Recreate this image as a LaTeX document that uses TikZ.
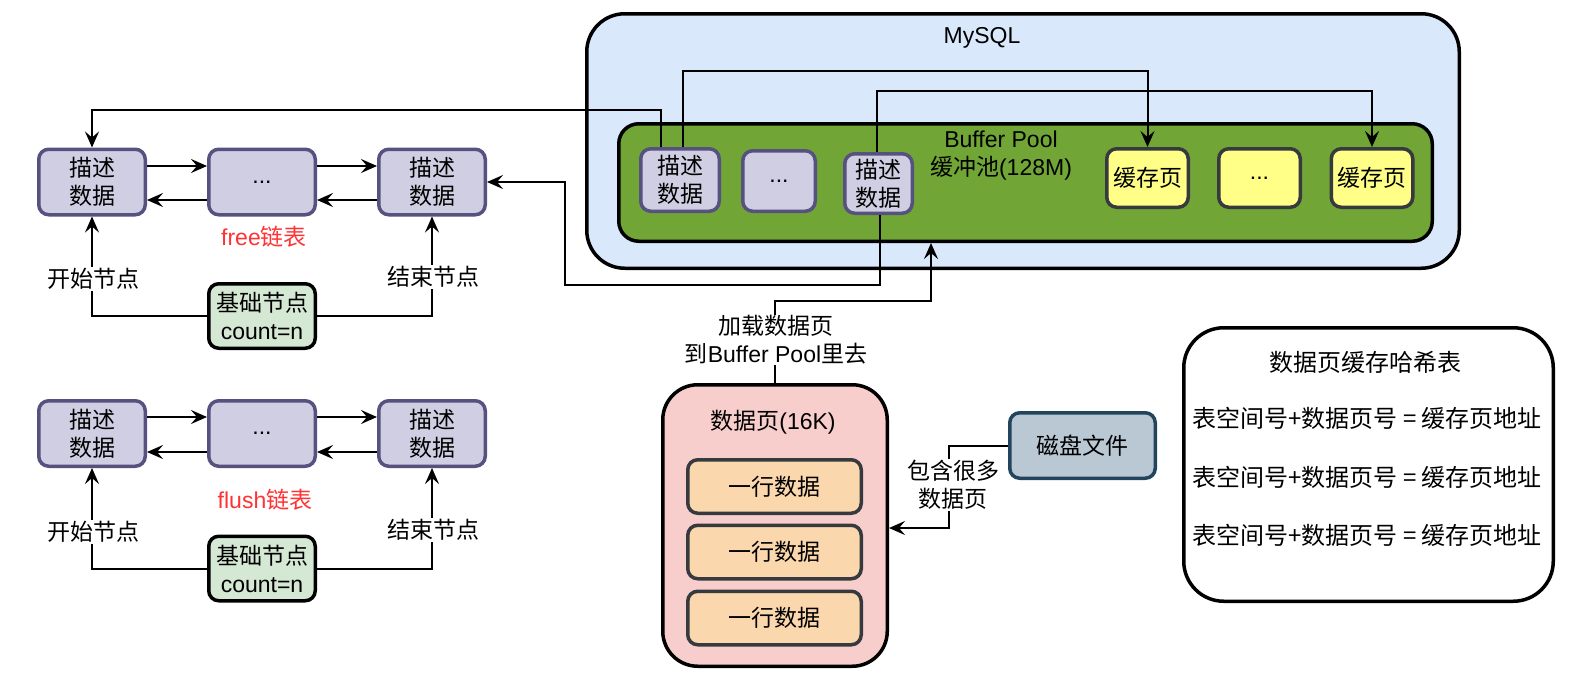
\documentclass[tikz,border=0pt]{standalone}
\usepackage{fontspec}
\setmainfont{Noto Sans CJK SC}
\newfontfamily\lat{Liberation Sans}
\usetikzlibrary{arrows.meta}
\definecolor{mysqlfill}{HTML}{DAE8FC}
\definecolor{poolfill}{HTML}{71A637}
\definecolor{descfill}{HTML}{D0CEE2}
\definecolor{descline}{HTML}{56517E}
\definecolor{cachefill}{HTML}{FFFF88}
\definecolor{darkline}{HTML}{36393D}
\definecolor{basefill}{HTML}{D5E8D4}
\definecolor{pagefill}{HTML}{F8CECC}
\definecolor{rowfill}{HTML}{FAD7AC}
\definecolor{diskfill}{HTML}{BAC8D3}
\definecolor{diskline}{HTML}{23445D}
\definecolor{redtext}{HTML}{FF3333}
\newcommand\txtsize{\fontsize{23}{28}\selectfont}
\newcommand\hashsize{\fontsize{24}{28}\selectfont}
\begin{document}
\begin{tikzpicture}[x=1pt,y=-1pt,
  box/.style={draw, line width=3.5pt, align=center, inner sep=0pt, font=\txtsize},
  desc/.style={box, rounded corners=10pt, fill=descfill, draw=descline},
  cache/.style={box, rounded corners=10pt, fill=cachefill, draw=darkline},
  basebox/.style={box, rounded corners=10pt, fill=basefill, draw=black, minimum width=106.5pt, minimum height=64.5pt},
  rowbox/.style={box, rounded corners=10pt, fill=rowfill, draw=darkline, minimum width=173.5pt, minimum height=53.5pt},
  listnode/.style={desc, minimum width=106.5pt, minimum height=65.5pt},
  arr/.style={-{Stealth[length=16pt,width=14pt,inset=6pt]}, line width=2pt},
  lbl/.style={fill=white, inner sep=1pt, align=center, font=\txtsize},
  plain/.style={inner sep=0pt, align=center, font=\txtsize}]
\useasboundingbox (0,0) rectangle (1578,678);

% ---------------- MySQL / Buffer Pool ----------------
\node[box, rounded corners=38pt, fill=mysqlfill, minimum width=872.5pt, minimum height=254.5pt] (mysql) at (1023,141) {};
\node[plain] (mysqltxt) at (982,38) {\lat MySQL};
\node[box, rounded corners=20pt, fill=poolfill, minimum width=813.5pt, minimum height=117.5pt] (pool) at (1025.5,182.5) {};
\node[plain] (pooltxt) at (1001,156) {{\lat Buffer Pool}\\缓冲池{\lat (128M)}};
\node[desc, minimum width=78.5pt, minimum height=62.5pt] (d1) at (680,180) {描述\\数据};
\node[desc, minimum width=72.5pt, minimum height=60.5pt] (dots1) at (779,181) {\lat ...};
\node[desc, minimum width=67.5pt, minimum height=59.5pt] (d2) at (878.5,183.5) {描述\\数据};
\node[cache, minimum width=81.5pt, minimum height=58.5pt] (c1) at (1147.5,178) {缓存页};
\node[cache, minimum width=81.5pt, minimum height=58.5pt] (c2) at (1259.5,178) {\lat ...};
\node[cache, minimum width=81.5pt, minimum height=58.5pt] (c3) at (1372,178) {缓存页};

% ---------------- free list ----------------
\node[listnode] (fA) at (92,182) {描述\\数据};
\node[listnode] (fB) at (262,182) {\lat ...};
\node[listnode] (fC) at (432,182) {描述\\数据};
\node[basebox] (fBase) at (262,316) {基础节点\\{\lat count=n}};
\node[plain, text=redtext] (freetxt) at (264,237) {{\lat free}链表};
\draw[arr] ([yshift=16pt]fA.east) -- ([yshift=16pt]fB.west);
\draw[arr] ([yshift=16pt]fB.east) -- ([yshift=16pt]fC.west);
\draw[arr] ([yshift=-18pt]fC.west) -- ([yshift=-18pt]fB.east);
\draw[arr] ([yshift=-18pt]fB.west) -- ([yshift=-18pt]fA.east);
\draw[arr] (fBase.west) -| (fA.south);
\draw[arr] (fBase.east) -| (fC.south);
\node[lbl] (fstart) at (93,279) {开始节点};
\node[lbl] (fend) at (433,277) {结束节点};

% ---------------- flush list ----------------
\node[listnode] (gA) at (92,433.5) {描述\\数据};
\node[listnode] (gB) at (262,433.5) {\lat ...};
\node[listnode] (gC) at (432,433.5) {描述\\数据};
\node[basebox] (gBase) at (262,568.5) {基础节点\\{\lat count=n}};
\node[plain, text=redtext] (flushtxt) at (265,500) {{\lat flush}链表};
\draw[arr] ([yshift=16.5pt]gA.east) -- ([yshift=16.5pt]gB.west);
\draw[arr] ([yshift=16.5pt]gB.east) -- ([yshift=16.5pt]gC.west);
\draw[arr] ([yshift=-18.5pt]gC.west) -- ([yshift=-18.5pt]gB.east);
\draw[arr] ([yshift=-18.5pt]gB.west) -- ([yshift=-18.5pt]gA.east);
\draw[arr] (gBase.west) -| (gA.south);
\draw[arr] (gBase.east) -| (gC.south);
\node[lbl] (gstart) at (93,532) {开始节点};
\node[lbl] (gend) at (433,530) {结束节点};

% ---------------- connectors from the pool ----------------
\draw[arr] ([xshift=-19pt]d1.north) |- ([yshift=38pt]fA.north) -- (fA.north);
\draw[arr] ([xshift=3pt]d1.north) |- ([yshift=76pt]c1.north) -- (c1.north);
\draw[arr] ([xshift=-1.5pt]d2.north) |- ([yshift=56pt]c3.north) -- (c3.north);
\draw[arr] ([xshift=1.5pt]d2.south) -- ++(0,70) -| ([xshift=78pt]fC.east) -- (fC.east);

% ---------------- data page ----------------
\node[box, rounded corners=35pt, fill=pagefill, minimum width=224.5pt, minimum height=281.5pt] (page) at (775,525.5) {};
\node[plain] (pagetxt) at (773,422) {数据页{\lat (16K)}};
\node[rowbox] (r1) at (774.5,486.5) {一行数据};
\node[rowbox] (r2) at (774.5,552) {一行数据};
\node[rowbox] (r3) at (774.5,618) {一行数据};
\draw[arr] (page.north) |- ([xshift=-94.5pt,yshift=-58pt]pool.south) -- ([xshift=-94.5pt]pool.south);
\node[lbl] (loadtxt) at (776,340) {加载数据页\\到{\lat Buffer Pool}里去};

% ---------------- disk ----------------
\node[box, rounded corners=10pt, fill=diskfill, draw=diskline, minimum width=145.5pt, minimum height=65.5pt] (disk) at (1082.5,445.5) {磁盘文件};
\draw[arr] (disk.west) -| ([xshift=60pt,yshift=-2.5pt]page.east) -- ([yshift=-2.5pt]page.east);
\node[lbl] (disktxt) at (953,485) {包含很多\\数据页};

% ---------------- hash table ----------------
\node[box, rounded corners=40pt, fill=white, minimum width=369.5pt, minimum height=273.5pt] (hash) at (1368.5,464.5) {};
\node[plain, font=\hashsize] (hashtitle) at (1365,362) {数据页缓存哈希表};
\node[plain, font=\hashsize] (h1) at (1367,418) {表空间号+数据页号 = 缓存页地址};
\node[plain, font=\hashsize] (h2) at (1367,477) {表空间号+数据页号 = 缓存页地址};
\node[plain, font=\hashsize] (h3) at (1367,535) {表空间号+数据页号 = 缓存页地址};
\end{tikzpicture}
\end{document}
